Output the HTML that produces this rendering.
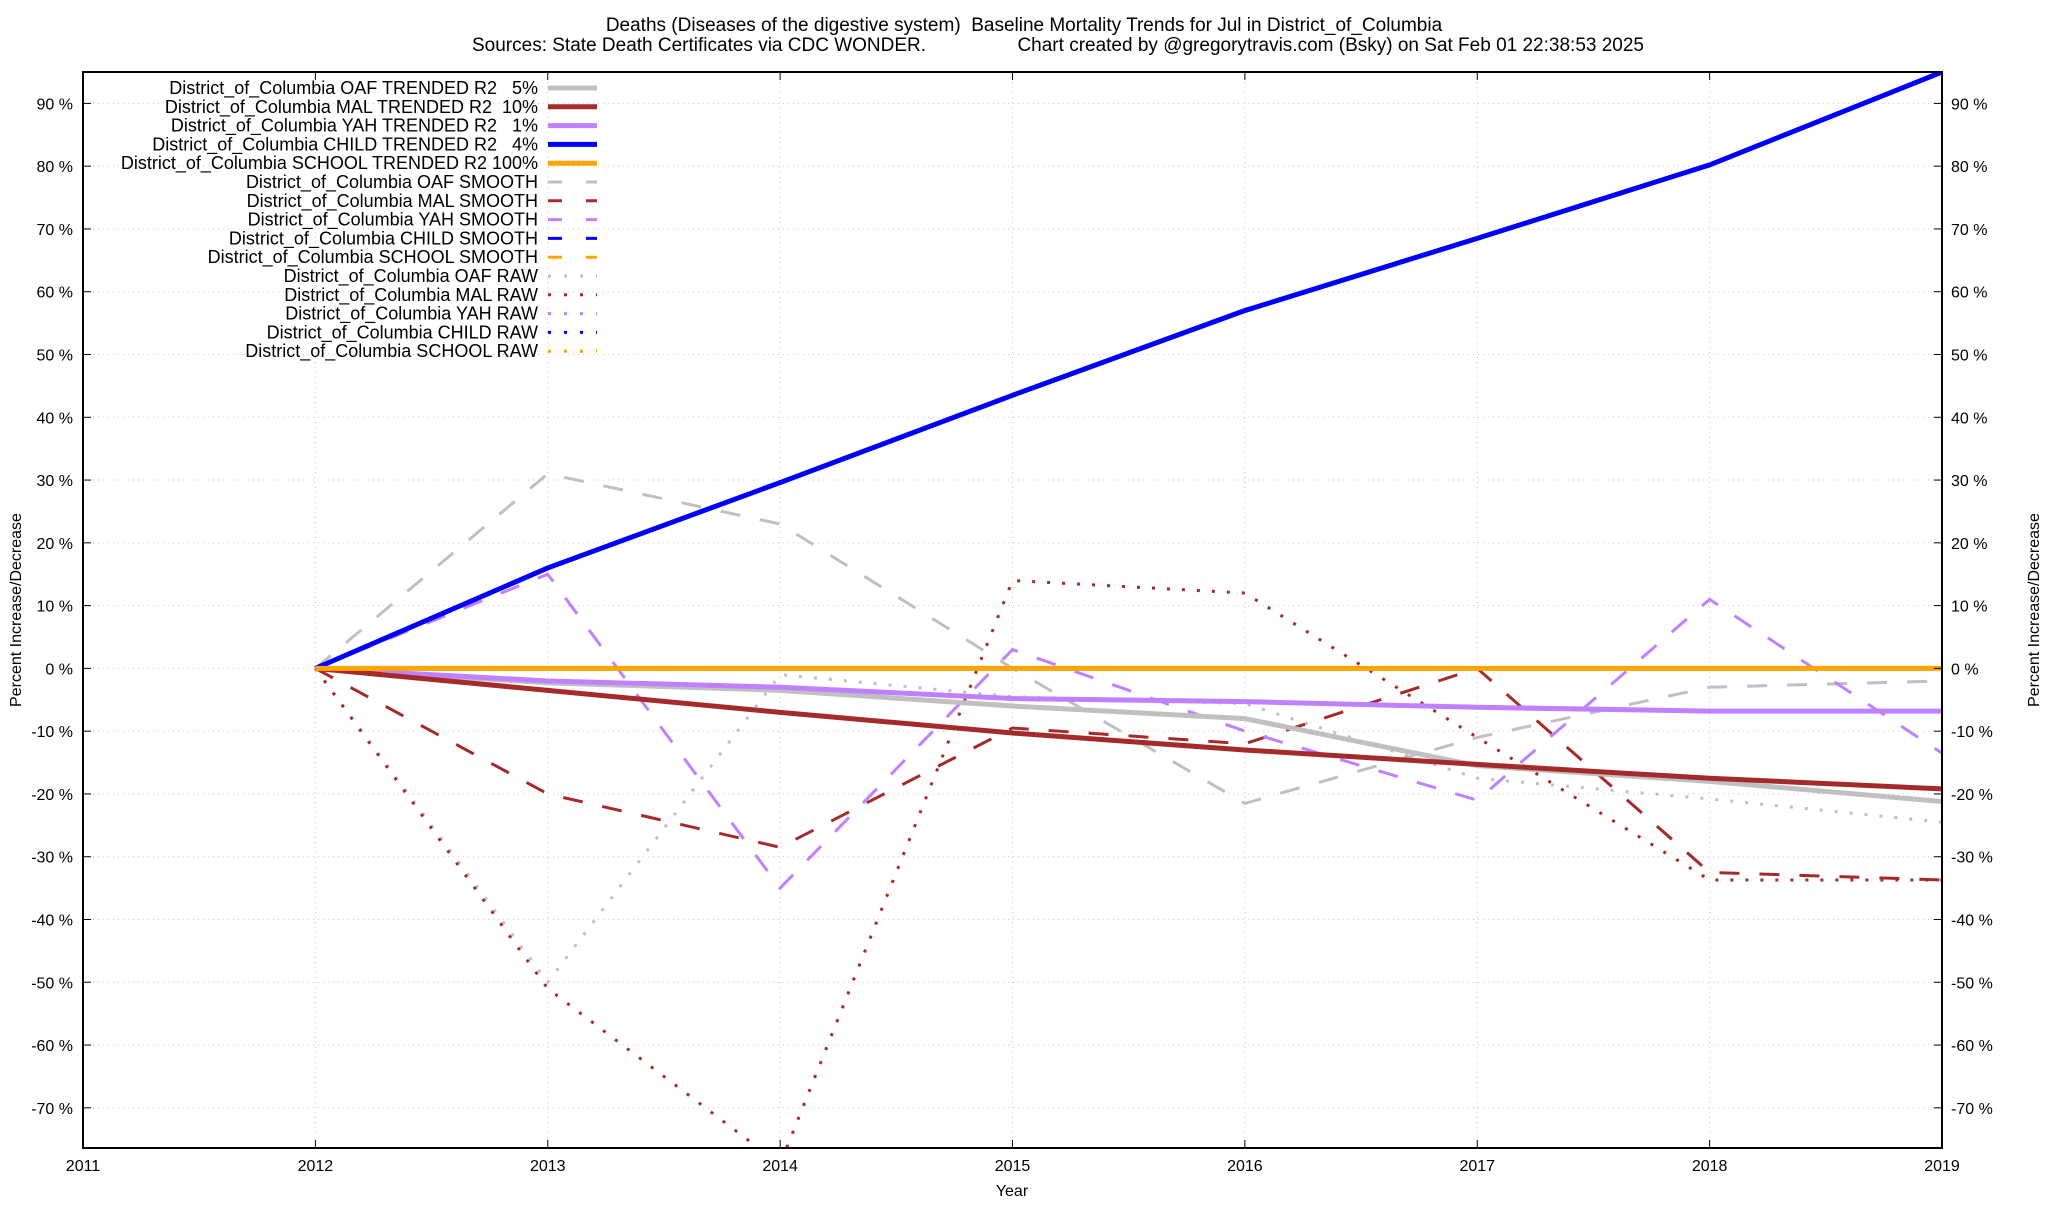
<!DOCTYPE html>
<html><head><meta charset="utf-8"><style>
html,body{margin:0;padding:0;background:#fff;}
svg text{font-family:"Liberation Sans",sans-serif;fill:#000;white-space:pre;}
</style></head><body>
<svg id="chart" width="2048" height="1200" xmlns="http://www.w3.org/2000/svg">
<text x="1024" y="31" font-size="19" text-anchor="middle">Deaths (Diseases of the digestive system)  Baseline Mortality Trends for Jul in District_of_Columbia</text>
<text x="472" y="51" font-size="19">Sources: State Death Certificates via CDC WONDER.</text>
<text x="1644" y="51" font-size="19" text-anchor="end">Chart created by @gregorytravis.com (Bsky) on Sat Feb 01 22:38:53 2025</text>
<g id="grid"></g>
<g id="series"></g>
<rect x="83" y="72" width="1859" height="1076" fill="none" stroke="#000" stroke-width="2"/>
<g id="axes"></g>
<text x="1012" y="1196" font-size="16" text-anchor="middle">Year</text>
<text transform="translate(21,610) rotate(-90)" font-size="16" text-anchor="middle">Percent Increase/Decrease</text>
<text transform="translate(2039,610) rotate(-90)" font-size="16" text-anchor="middle">Percent Increase/Decrease</text>
<g id="legend"></g>
</svg>
<script>
const years=[2012,2013,2014,2015,2016,2017,2018,2019];
const xTicks=[2011,2012,2013,2014,2015,2016,2017,2018,2019];
const yTicks=[-70,-60,-50,-40,-30,-20,-10,0,10,20,30,40,50,60,70,80,90];
const oafTrend=[0,-2.3,-3.5,-6,-8,-15.5,-18,-21.2];
const malTrend=[0,-3.5,-7,-10.3,-13,-15.3,-17.5,-19.2];
const yahTrend=[0,-2,-3,-4.8,-5.3,-6.2,-6.8,-6.8];
const childTrend=[0,16,29.6,43.5,57,68.5,80.2,95];
const schoolTrend=[0,0,0,0,0,0,0,0];
const oafSmooth=[0,31,23,0,-21.5,-11,-3,-2];
const malSmooth=[0,-20,-28.5,-9.5,-12,0,-32.5,-33.7];
const yahSmooth=[0,15,-35,3,-10,-21,11,-13.5];
const childSmooth=[0,16,29.6,43.5,57,68.5,80.2,95];
const schoolSmooth=[0,0,0,0,0,0,0,0];
const oafRaw=[0,-50,-1,-4.5,-5.6,-17.5,-20.8,-24.5];
const malRaw=[0,-51,-79,14,12,-11,-33.7,-33.7];
const yahRaw=[0,-2,-3,-4.8,-5.3,-6.2,-6.8,-6.8];
const childRaw=[0,16,29.6,43.5,57,68.5,80.2,95];
const schoolRaw=[0,0,0,0,0,0,0,0];

const X0=83,X1=1942,Y0=72,Y1=1148,XMIN=2011,XMAX=2019,YMIN=-76.4,YMAX=95;
const xs=v=>X0+(v-XMIN)/(XMAX-XMIN)*(X1-X0);
const ys=v=>Y1-(v-YMIN)/(YMAX-YMIN)*(Y1-Y0);
const NS='http://www.w3.org/2000/svg';
function mk(tag,parent){const e=document.createElementNS(NS,tag);parent.appendChild(e);return e;}
const grid=document.getElementById('grid'),axes=document.getElementById('axes');
yTicks.forEach(t=>{
  const y=ys(t);
  const g=mk('line',grid);
  
  
  g.setAttribute('x1',X0);g.setAttribute('x2',X1);g.setAttribute('y1',y);g.setAttribute('y2',y);
  g.setAttribute('stroke','#c8c8c8');g.setAttribute('stroke-dasharray','1,4');
  [[X0,X0+8],[X1-8,X1]].forEach(p=>{const l=mk('line',axes);
    
    
    l.setAttribute('x1',p[0]);l.setAttribute('x2',p[1]);l.setAttribute('y1',y);l.setAttribute('y2',y);l.setAttribute('stroke','#000');});
  const a=mk('text',axes);
  
  
  a.setAttribute('x',73);a.setAttribute('y',y+6);a.setAttribute('font-size','16');a.setAttribute('text-anchor','end');a.textContent=t+' %';
  const b=mk('text',axes);
  
  
  b.setAttribute('x',1951);b.setAttribute('y',y+6);b.setAttribute('font-size','16');b.textContent=t+' %';
});
xTicks.forEach(t=>{
  const x=xs(t);
  const g=mk('line',grid);
  
  
  g.setAttribute('x1',x);g.setAttribute('x2',x);g.setAttribute('y1',Y0);g.setAttribute('y2',Y1);
  g.setAttribute('stroke','#c8c8c8');g.setAttribute('stroke-dasharray','1,4');
  [[Y0,Y0+8],[Y1-8,Y1]].forEach(p=>{const l=mk('line',axes);
    
    
    l.setAttribute('x1',x);l.setAttribute('x2',x);l.setAttribute('y1',p[0]);l.setAttribute('y2',p[1]);l.setAttribute('stroke','#000');});
  const a=mk('text',axes);
  
  
  a.setAttribute('x',x);a.setAttribute('y',1171);a.setAttribute('font-size','16');a.setAttribute('text-anchor','middle');a.textContent=t;
});
const GRAY='#c0c0c0',RED='#a52a2a',PUR='#c080ff',BLU='#0000ff',ORA='#ffa500';
const defs=[
 ['District_of_Columbia OAF TRENDED R2   5%',oafTrend,GRAY,5,null,'oaf-trended-line'],
 ['District_of_Columbia MAL TRENDED R2  10%',malTrend,RED,5,null,'mal-trended-line'],
 ['District_of_Columbia YAH TRENDED R2   1%',yahTrend,PUR,5,null,'yah-trended-line'],
 ['District_of_Columbia CHILD TRENDED R2   4%',childTrend,BLU,5,null,'child-trended-line'],
 ['District_of_Columbia SCHOOL TRENDED R2 100%',schoolTrend,ORA,5,null,'school-trended-line'],
 ['District_of_Columbia OAF SMOOTH',oafSmooth,GRAY,3,'20,20','oaf-smooth-line'],
 ['District_of_Columbia MAL SMOOTH',malSmooth,RED,3,'20,20','mal-smooth-line'],
 ['District_of_Columbia YAH SMOOTH',yahSmooth,PUR,3,'20,20','yah-smooth-line'],
 ['District_of_Columbia CHILD SMOOTH',childSmooth,BLU,3,'20,20','child-smooth-line'],
 ['District_of_Columbia SCHOOL SMOOTH',schoolSmooth,ORA,3,'20,20','school-smooth-line'],
 ['District_of_Columbia OAF RAW',oafRaw,GRAY,3,'3,12','oaf-raw-line'],
 ['District_of_Columbia MAL RAW',malRaw,RED,3,'3,12','mal-raw-line'],
 ['District_of_Columbia YAH RAW',yahRaw,PUR,3,'3,12','yah-raw-line'],
 ['District_of_Columbia CHILD RAW',childRaw,BLU,3,'3,12','child-raw-line'],
 ['District_of_Columbia SCHOOL RAW',schoolRaw,ORA,3,'3,12','school-raw-line']
];
const ser=document.getElementById('series');
const cp=mk('clipPath',mk('defs',ser));cp.setAttribute('id','clip');
const cr=mk('rect',cp);cr.setAttribute('x',X0);cr.setAttribute('y',Y0);cr.setAttribute('width',X1-X0);cr.setAttribute('height',Y1-Y0);
const order=[10,11,12,13,14,5,6,7,8,9,0,2,1,3,4];
order.forEach(i=>{
  const d=defs[i];
  const p=mk('polyline',ser);
  
  
  p.setAttribute('points',years.map((yr,k)=>xs(yr)+','+ys(d[1][k])).join(' '));
  p.setAttribute('fill','none');p.setAttribute('stroke',d[2]);p.setAttribute('stroke-width',d[3]);
  p.setAttribute('clip-path','url(#clip)');
  if(d[4])p.setAttribute('stroke-dasharray',d[4]);
});
const leg=document.getElementById('legend');
defs.forEach((d,i)=>{
  const y=88+i*18.8;
  const t=mk('text',leg);
  
  
  t.setAttribute('x',538);t.setAttribute('y',y+6);t.setAttribute('font-size','18');t.setAttribute('text-anchor','end');
  t.textContent=d[0];
  const l=mk('line',leg);
  
  
  l.setAttribute('x1',548);l.setAttribute('x2',597);l.setAttribute('y1',y);l.setAttribute('y2',y);
  l.setAttribute('stroke',d[2]);l.setAttribute('stroke-width',d[3]);
  if(d[4])l.setAttribute('stroke-dasharray',d[4]==='20,20'?'14,24':'3,13');
});
</script>
</body></html>
